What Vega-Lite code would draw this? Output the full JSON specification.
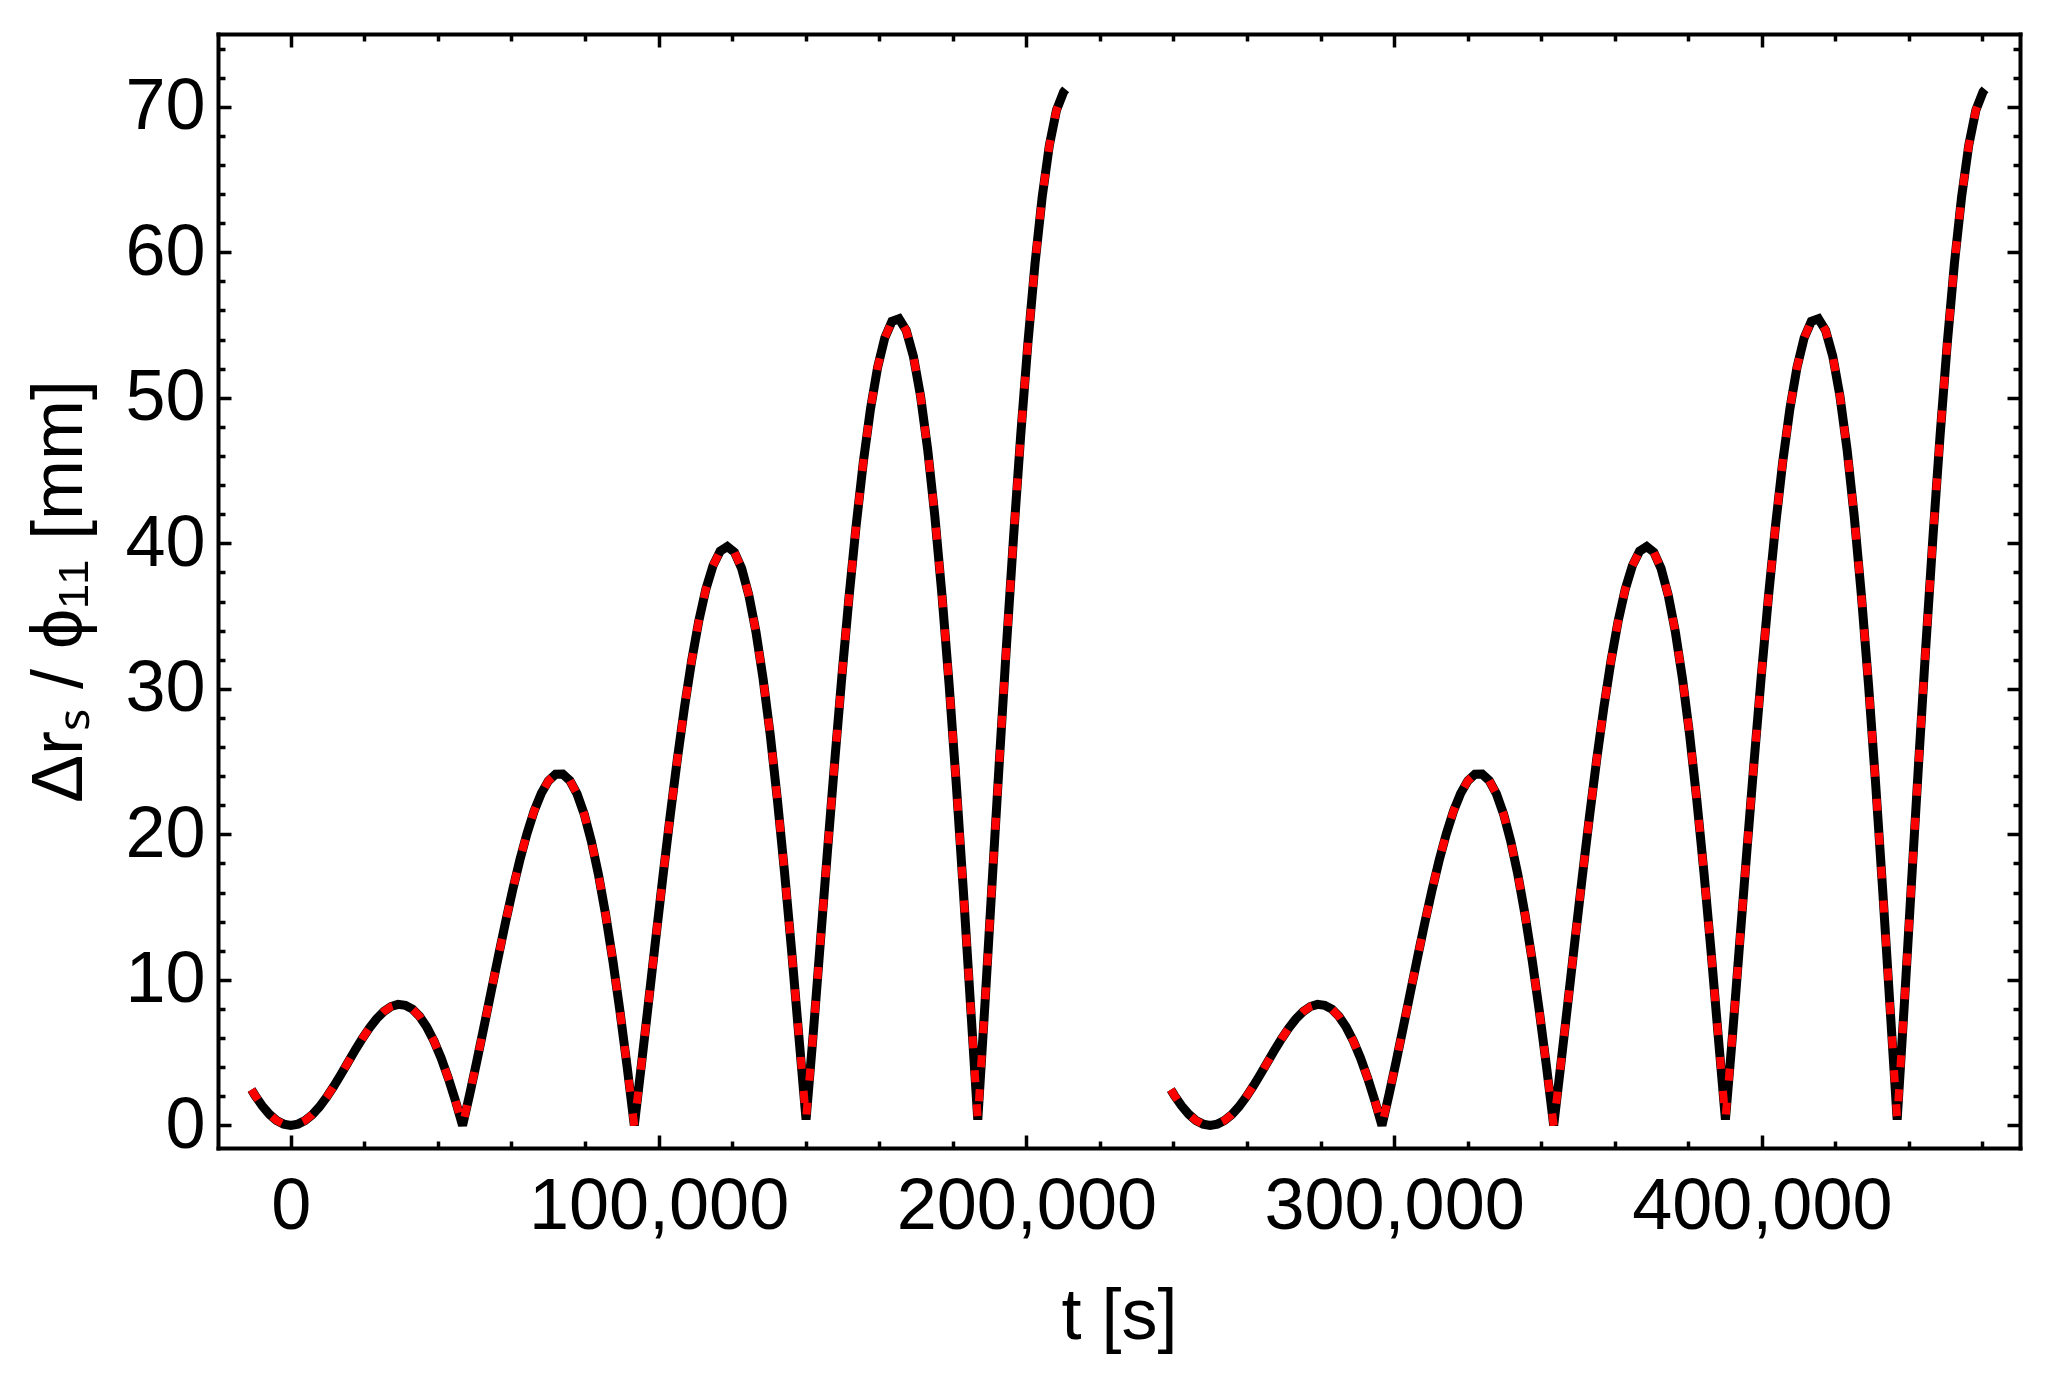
{
"$schema": "https://vega.github.io/schema/vega-lite/v6.json",
"width": 1802, "height": 1114,
"autosize": {"type": "none"},
"padding": {"left": 218, "top": 34, "right": 36, "bottom": 240},
"background": "white",
"config": {"view": {"stroke": null},
 "axis": {"grid": false, "domainColor": "black", "domainWidth": 4, "domainCap": "square", "tickColor": "black", "tickWidth": 3.5,
  "labelFont": "Liberation Sans", "labelFontSize": 72, "labelColor": "black", "titleFont": "Liberation Sans", "titleFontSize": 72,
  "titleColor": "black", "titleFontWeight": "normal", "labelOverlap": false, "labelFlush": false, "labelLimit": 600, "titleLimit": 2000}},
"data": {"values": [
{"t":-10700,"v":2.46,"s":1},{"t":-9729,"v":2.06,"s":1},{"t":-7783,"v":1.35,"s":1},{"t":-5837,"v":0.77,"s":1},{"t":-3892,"v":0.34,"s":1},{"t":-1946,"v":0.09,"s":1},{"t":0,"v":0,"s":1},{"t":1946,"v":0.09,"s":1},{"t":3892,"v":0.34,"s":1},{"t":5837,"v":0.74,"s":1},{"t":7783,"v":1.28,"s":1},{"t":9729,"v":1.94,"s":1},{"t":11675,"v":2.69,"s":1},{"t":13621,"v":3.5,"s":1},{"t":15567,"v":4.34,"s":1},{"t":17512,"v":5.18,"s":1},{"t":19458,"v":5.98,"s":1},{"t":21404,"v":6.71,"s":1},{"t":23350,"v":7.34,"s":1},{"t":25296,"v":7.83,"s":1},{"t":27242,"v":8.17,"s":1},{"t":29187,"v":8.32,"s":1},{"t":31133,"v":8.26,"s":1},{"t":33079,"v":7.99,"s":1},{"t":35025,"v":7.49,"s":1},{"t":36971,"v":6.76,"s":1},{"t":38917,"v":5.81,"s":1},{"t":40862,"v":4.64,"s":1},{"t":42808,"v":3.26,"s":1},{"t":44754,"v":1.71,"s":1},{"t":46700,"v":0,"s":1},{"t":48646,"v":2.15,"s":1},{"t":50592,"v":4.43,"s":1},{"t":52537,"v":6.8,"s":1},{"t":54483,"v":9.21,"s":1},{"t":56429,"v":11.61,"s":1},{"t":58375,"v":13.95,"s":1},{"t":60321,"v":16.18,"s":1},{"t":62267,"v":18.23,"s":1},{"t":64212,"v":20.05,"s":1},{"t":66158,"v":21.6,"s":1},{"t":68104,"v":22.82,"s":1},{"t":70050,"v":23.68,"s":1},{"t":71996,"v":24.13,"s":1},{"t":73942,"v":24.14,"s":1},{"t":75887,"v":23.7,"s":1},{"t":77833,"v":22.78,"s":1},{"t":79779,"v":21.39,"s":1},{"t":81725,"v":19.53,"s":1},{"t":83671,"v":17.22,"s":1},{"t":85617,"v":14.47,"s":1},{"t":87562,"v":11.33,"s":1},{"t":89508,"v":7.83,"s":1},{"t":91454,"v":4.03,"s":1},{"t":93400,"v":0,"s":1},{"t":95346,"v":4.21,"s":1},{"t":97292,"v":8.51,"s":1},{"t":99237,"v":12.84,"s":1},{"t":101183,"v":17.1,"s":1},{"t":103129,"v":21.22,"s":1},{"t":105075,"v":25.11,"s":1},{"t":107021,"v":28.7,"s":1},{"t":108967,"v":31.9,"s":1},{"t":110912,"v":34.64,"s":1},{"t":112858,"v":36.85,"s":1},{"t":114804,"v":38.47,"s":1},{"t":116750,"v":39.46,"s":1},{"t":118696,"v":39.78,"s":1},{"t":120642,"v":39.39,"s":1},{"t":122587,"v":38.28,"s":1},{"t":124533,"v":36.45,"s":1},{"t":126479,"v":33.92,"s":1},{"t":128425,"v":30.69,"s":1},{"t":130371,"v":26.83,"s":1},{"t":132317,"v":22.36,"s":1},{"t":134262,"v":17.37,"s":1},{"t":136208,"v":11.92,"s":1},{"t":138154,"v":6.1,"s":1},{"t":140100,"v":0.4,"s":1},{"t":142046,"v":6.27,"s":1},{"t":143992,"v":12.6,"s":1},{"t":145937,"v":18.88,"s":1},{"t":147883,"v":24.99,"s":1},{"t":149829,"v":30.83,"s":1},{"t":151775,"v":36.28,"s":1},{"t":153721,"v":41.22,"s":1},{"t":155667,"v":45.57,"s":1},{"t":157612,"v":49.22,"s":1},{"t":159558,"v":52.09,"s":1},{"t":161504,"v":54.12,"s":1},{"t":163450,"v":55.25,"s":1},{"t":165396,"v":55.43,"s":1},{"t":167342,"v":54.63,"s":1},{"t":169287,"v":52.86,"s":1},{"t":171233,"v":50.12,"s":1},{"t":173179,"v":46.44,"s":1},{"t":175125,"v":41.86,"s":1},{"t":177071,"v":36.43,"s":1},{"t":179017,"v":30.25,"s":1},{"t":180962,"v":23.41,"s":1},{"t":182908,"v":16.0,"s":1},{"t":184854,"v":8.16,"s":1},{"t":186800,"v":0.4,"s":1},{"t":188746,"v":8.33,"s":1},{"t":190692,"v":16.68,"s":1},{"t":192637,"v":24.92,"s":1},{"t":194583,"v":32.89,"s":1},{"t":196529,"v":40.44,"s":1},{"t":198475,"v":47.44,"s":1},{"t":200421,"v":53.74,"s":1},{"t":202367,"v":59.24,"s":1},{"t":204312,"v":63.8,"s":1},{"t":206258,"v":67.34,"s":1},{"t":208204,"v":69.77,"s":1},{"t":210150,"v":71.03,"s":1},{"t":210700,"v":71.2,"s":1},
{"t":239300,"v":2.46,"s":2},{"t":240271,"v":2.06,"s":2},{"t":242217,"v":1.35,"s":2},{"t":244163,"v":0.77,"s":2},{"t":246108,"v":0.34,"s":2},{"t":248054,"v":0.09,"s":2},{"t":250000,"v":0,"s":2},{"t":251946,"v":0.09,"s":2},{"t":253892,"v":0.34,"s":2},{"t":255837,"v":0.74,"s":2},{"t":257783,"v":1.28,"s":2},{"t":259729,"v":1.94,"s":2},{"t":261675,"v":2.69,"s":2},{"t":263621,"v":3.5,"s":2},{"t":265567,"v":4.34,"s":2},{"t":267512,"v":5.18,"s":2},{"t":269458,"v":5.98,"s":2},{"t":271404,"v":6.71,"s":2},{"t":273350,"v":7.34,"s":2},{"t":275296,"v":7.83,"s":2},{"t":277242,"v":8.17,"s":2},{"t":279187,"v":8.32,"s":2},{"t":281133,"v":8.26,"s":2},{"t":283079,"v":7.99,"s":2},{"t":285025,"v":7.49,"s":2},{"t":286971,"v":6.76,"s":2},{"t":288917,"v":5.81,"s":2},{"t":290862,"v":4.64,"s":2},{"t":292808,"v":3.26,"s":2},{"t":294754,"v":1.71,"s":2},{"t":296700,"v":0,"s":2},{"t":298646,"v":2.15,"s":2},{"t":300592,"v":4.43,"s":2},{"t":302537,"v":6.8,"s":2},{"t":304483,"v":9.21,"s":2},{"t":306429,"v":11.61,"s":2},{"t":308375,"v":13.95,"s":2},{"t":310321,"v":16.18,"s":2},{"t":312267,"v":18.23,"s":2},{"t":314212,"v":20.05,"s":2},{"t":316158,"v":21.6,"s":2},{"t":318104,"v":22.82,"s":2},{"t":320050,"v":23.68,"s":2},{"t":321996,"v":24.13,"s":2},{"t":323942,"v":24.14,"s":2},{"t":325887,"v":23.7,"s":2},{"t":327833,"v":22.78,"s":2},{"t":329779,"v":21.39,"s":2},{"t":331725,"v":19.53,"s":2},{"t":333671,"v":17.22,"s":2},{"t":335617,"v":14.47,"s":2},{"t":337562,"v":11.33,"s":2},{"t":339508,"v":7.83,"s":2},{"t":341454,"v":4.03,"s":2},{"t":343400,"v":0,"s":2},{"t":345346,"v":4.21,"s":2},{"t":347292,"v":8.51,"s":2},{"t":349237,"v":12.84,"s":2},{"t":351183,"v":17.1,"s":2},{"t":353129,"v":21.22,"s":2},{"t":355075,"v":25.11,"s":2},{"t":357021,"v":28.7,"s":2},{"t":358967,"v":31.9,"s":2},{"t":360912,"v":34.64,"s":2},{"t":362858,"v":36.85,"s":2},{"t":364804,"v":38.47,"s":2},{"t":366750,"v":39.46,"s":2},{"t":368696,"v":39.78,"s":2},{"t":370642,"v":39.39,"s":2},{"t":372587,"v":38.28,"s":2},{"t":374533,"v":36.45,"s":2},{"t":376479,"v":33.92,"s":2},{"t":378425,"v":30.69,"s":2},{"t":380371,"v":26.83,"s":2},{"t":382317,"v":22.36,"s":2},{"t":384262,"v":17.37,"s":2},{"t":386208,"v":11.92,"s":2},{"t":388154,"v":6.1,"s":2},{"t":390100,"v":0.4,"s":2},{"t":392046,"v":6.27,"s":2},{"t":393992,"v":12.6,"s":2},{"t":395937,"v":18.88,"s":2},{"t":397883,"v":24.99,"s":2},{"t":399829,"v":30.83,"s":2},{"t":401775,"v":36.28,"s":2},{"t":403721,"v":41.22,"s":2},{"t":405667,"v":45.57,"s":2},{"t":407612,"v":49.22,"s":2},{"t":409558,"v":52.09,"s":2},{"t":411504,"v":54.12,"s":2},{"t":413450,"v":55.25,"s":2},{"t":415396,"v":55.43,"s":2},{"t":417342,"v":54.63,"s":2},{"t":419287,"v":52.86,"s":2},{"t":421233,"v":50.12,"s":2},{"t":423179,"v":46.44,"s":2},{"t":425125,"v":41.86,"s":2},{"t":427071,"v":36.43,"s":2},{"t":429017,"v":30.25,"s":2},{"t":430962,"v":23.41,"s":2},{"t":432908,"v":16.0,"s":2},{"t":434854,"v":8.16,"s":2},{"t":436800,"v":0.4,"s":2},{"t":438746,"v":8.33,"s":2},{"t":440692,"v":16.68,"s":2},{"t":442637,"v":24.92,"s":2},{"t":444583,"v":32.89,"s":2},{"t":446529,"v":40.44,"s":2},{"t":448475,"v":47.44,"s":2},{"t":450421,"v":53.74,"s":2},{"t":452367,"v":59.24,"s":2},{"t":454312,"v":63.8,"s":2},{"t":456258,"v":67.34,"s":2},{"t":458204,"v":69.77,"s":2},{"t":460150,"v":71.03,"s":2},{"t":460700,"v":71.2,"s":2}
]},
"resolve": {"axis": {"x": "independent", "y": "independent"}},
"layer": [
 {"mark": {"type": "line", "color": "black", "strokeWidth": 9, "strokeCap": "butt", "strokeJoin": "miter", "strokeMiterLimit": 3},
  "encoding": {
   "x": {"field": "t", "type": "quantitative", "scale": {"domain": [-19800, 470200], "nice": false, "zero": false},
    "axis": {"orient": "bottom", "title": "t [s]", "format": ",d",
     "values": [0,20000,40000,60000,80000,100000,120000,140000,160000,180000,200000,220000,240000,260000,280000,300000,320000,340000,360000,380000,400000,420000,440000,460000],
     "tickSize": {"condition": {"test": "datum.value % 100000 === 0", "value": -13}, "value": -7},
     "labelExpr": "datum.value % 100000 === 0 ? datum.label : ''", "labelPadding": 36, "titlePadding": 33}},
   "y": {"field": "v", "type": "quantitative", "scale": {"domain": [-1.55, 75], "nice": false, "zero": false},
    "axis": {"orient": "left", "title": "Δrₛ / ϕ₁₁ [mm]", "format": "d",
     "values": [0,2,4,6,8,10,12,14,16,18,20,22,24,26,28,30,32,34,36,38,40,42,44,46,48,50,52,54,56,58,60,62,64,66,68,70,72,74],
     "tickSize": {"condition": {"test": "datum.value % 10 === 0", "value": -13}, "value": -7},
     "labelExpr": "datum.value % 10 === 0 ? datum.label : ''", "labelPadding": 26, "titlePadding": 28}},
   "detail": {"field": "s"}
  }},
 {"mark": {"type": "line", "color": "#ff0000", "strokeWidth": 8, "strokeDash": [12, 22], "strokeCap": "butt", "strokeJoin": "miter", "strokeMiterLimit": 3},
  "encoding": {
   "x": {"field": "t", "type": "quantitative", "scale": {"domain": [-19800, 470200], "nice": false, "zero": false},
    "axis": {"orient": "top", "title": null, "labels": false,
     "values": [0,20000,40000,60000,80000,100000,120000,140000,160000,180000,200000,220000,240000,260000,280000,300000,320000,340000,360000,380000,400000,420000,440000,460000],
     "tickSize": {"condition": {"test": "datum.value % 100000 === 0", "value": -13}, "value": -7}}},
   "y": {"field": "v", "type": "quantitative", "scale": {"domain": [-1.55, 75], "nice": false, "zero": false},
    "axis": {"orient": "right", "title": null, "labels": false,
     "values": [0,2,4,6,8,10,12,14,16,18,20,22,24,26,28,30,32,34,36,38,40,42,44,46,48,50,52,54,56,58,60,62,64,66,68,70,72,74],
     "tickSize": {"condition": {"test": "datum.value % 10 === 0", "value": -13}, "value": -7}}},
   "detail": {"field": "s"}
  }}
]
}
